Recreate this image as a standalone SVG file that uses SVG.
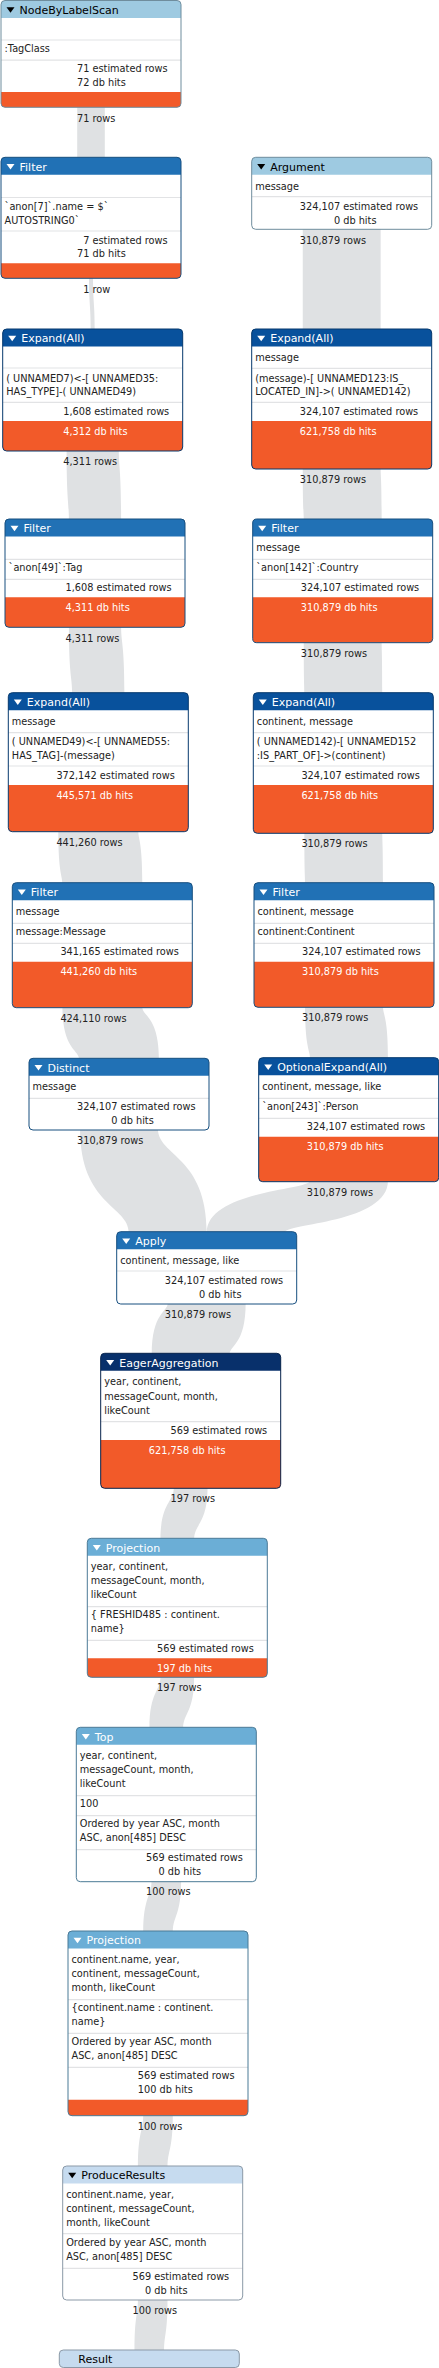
<svg xmlns="http://www.w3.org/2000/svg" width="439" height="2368" viewBox="0 0 439 2368">
<style>
.lk{fill:#dfe1e3}
.bg{fill:#fff}
.ol{fill:none;stroke-width:1}
.cost{fill:#f25a29}
.sep{stroke:#e2e3e5;stroke-width:1.2}
.t{font-family:'DejaVu Sans',sans-serif;font-size:11px;fill:#fff}
.tk{fill:#000}
.d{font-family:'DejaVu Sans',sans-serif;font-size:9.75px;fill:#222}
.dw{fill:#fff}
.e{text-anchor:end}
.tw{fill:#fff}
.tb{fill:#000}
.c1{fill:#9ecae1}.o1{stroke:#6f8d9d}
.c2{fill:#2171b5}.o2{stroke:#174f7f}
.c3{fill:#08519c}.o3{stroke:#06396d}
.c4{fill:#08306b}.o4{stroke:#06224b}
.c5{fill:#6baed6}.o5{stroke:#4b7a96}
.c6{fill:#c6dbef}.o6{stroke:#8b99a7}
</style>
<rect width="439" height="2368" fill="#fff"/>
<g id="connectors">
<path class="lk" d="M104.8 106.3C104.8 123.5 104.8 123.5 104.8 158.3L77.2 158.3C77.2 141.1 77.2 141.1 77.2 106.3Z"/>
<path class="lk" d="M93 277.3C93 302.4 94.7 302.4 94.7 330L90.7 330C90.7 304.9 89 304.9 89 277.3Z"/>
<path class="lk" d="M118.8 450C118.8 468.4 121.1 468.4 121.1 520L68.9 520C68.9 501.6 66.6 501.6 66.6 450Z"/>
<path class="lk" d="M121.1 626.3C121.1 643.4 124.4 643.4 124.4 693.7L72.2 693.7C72.2 676.6 68.9 676.6 68.9 626.3Z"/>
<path class="lk" d="M138.3 830.7C138.3 840.3 142.3 840.3 142.3 883.7L62.3 883.7C62.3 874.1 58.3 874.1 58.3 830.7Z"/>
<path class="lk" d="M142.2 1006.7C142.2 1016.3 158.9 1016.3 158.9 1059.3L79.1 1059.3C79.1 1049.7 62.4 1049.7 62.4 1006.7Z"/>
<path class="lk" d="M157.95 1129C157.95 1156.05 206.7 1156.05 206.7 1232.7L128.8 1232.7C128.8 1205.65 80.05 1205.65 80.05 1129Z"/>
<path class="lk" d="M387.95 1180.7C387.95 1223.25 284.6 1223.25 284.6 1232.7L206.7 1232.7C206.7 1190.15 310.05 1190.15 310.05 1180.7Z"/>
<path class="lk" d="M380.65 228.3L380.65 330L302.75 330L302.75 228.3Z"/>
<path class="lk" d="M380.65 468C380.65 477.45 381.65 477.45 381.65 520L303.75 520C303.75 510.55 302.75 510.55 302.75 468Z"/>
<path class="lk" d="M381.65 641.7C381.65 651.15 382.25 651.15 382.25 693.7L304.35 693.7C304.35 684.25 303.75 684.25 303.75 641.7Z"/>
<path class="lk" d="M382.25 832.3C382.25 841.6 382.95 841.6 382.95 883.7L305.05 883.7C305.05 874.4 304.35 874.4 304.35 832.3Z"/>
<path class="lk" d="M382.95 1006.3C382.95 1015.8 387.95 1015.8 387.95 1058.7L310.05 1058.7C310.05 1049.2 305.05 1049.2 305.05 1006.3Z"/>
<path class="lk" d="M245.65 1303C245.65 1344.95 229.65 1344.95 229.65 1354.3L151.75 1354.3C151.75 1312.35 167.75 1312.35 167.75 1303Z"/>
<path class="lk" d="M207.55 1487.3C207.55 1524.03 194.15 1524.03 194.15 1539.3L160.45 1539.3C160.45 1502.57 173.85 1502.57 173.85 1487.3Z"/>
<path class="lk" d="M194.15 1676.3C194.15 1713.03 183.15 1713.03 183.15 1728.3L149.45 1728.3C149.45 1691.57 160.45 1691.57 160.45 1676.3Z"/>
<path class="lk" d="M181.1 1880.7C181.1 1915.77 172.8 1915.77 172.8 1932L143.2 1932C143.2 1896.93 151.5 1896.93 151.5 1880.7Z"/>
<path class="lk" d="M172.8 2114.7C172.8 2150.27 167.5 2150.27 167.5 2167L137.9 2167C137.9 2131.43 143.2 2131.43 143.2 2114.7Z"/>
<path class="lk" d="M167.5 2299C167.5 2334.42 164.1 2334.42 164.1 2351L134.5 2351C134.5 2315.58 137.9 2315.58 137.9 2299Z"/>
<text class="d" y="121.8"><tspan class="e" x="92.5">71 </tspan><tspan x="92.5">rows</tspan></text>
<text class="d" y="292.8"><tspan class="e" x="92.5">1 </tspan><tspan x="92.5">row</tspan></text>
<text class="d" y="464.5"><tspan class="e" x="94.2">4,311 </tspan><tspan x="94.2">rows</tspan></text>
<text class="d" y="641.8"><tspan class="e" x="96.5">4,311 </tspan><tspan x="96.5">rows</tspan></text>
<text class="d" y="845.8"><tspan class="e" x="99.8">441,260 </tspan><tspan x="99.8">rows</tspan></text>
<text class="d" y="1021.8"><tspan class="e" x="103.8">424,110 </tspan><tspan x="103.8">rows</tspan></text>
<text class="d" y="1143.5"><tspan class="e" x="120.5">310,879 </tspan><tspan x="120.5">rows</tspan></text>
<text class="d" y="243.5"><tspan class="e" x="343.2">310,879 </tspan><tspan x="343.2">rows</tspan></text>
<text class="d" y="482.5"><tspan class="e" x="343.2">310,879 </tspan><tspan x="343.2">rows</tspan></text>
<text class="d" y="656.8"><tspan class="e" x="344.2">310,879 </tspan><tspan x="344.2">rows</tspan></text>
<text class="d" y="846.8"><tspan class="e" x="344.8">310,879 </tspan><tspan x="344.8">rows</tspan></text>
<text class="d" y="1020.8"><tspan class="e" x="345.5">310,879 </tspan><tspan x="345.5">rows</tspan></text>
<text class="d" y="1195.8"><tspan class="e" x="350.2">310,879 </tspan><tspan x="350.2">rows</tspan></text>
<text class="d" y="1317.5"><tspan class="e" x="208.2">310,879 </tspan><tspan x="208.2">rows</tspan></text>
<text class="d" y="1501.8"><tspan class="e" x="192.2">197 </tspan><tspan x="192.2">rows</tspan></text>
<text class="d" y="1690.8"><tspan class="e" x="178.8">197 </tspan><tspan x="178.8">rows</tspan></text>
<text class="d" y="1894.8"><tspan class="e" x="167.8">100 </tspan><tspan x="167.8">rows</tspan></text>
<text class="d" y="2129.5"><tspan class="e" x="159.5">100 </tspan><tspan x="159.5">rows</tspan></text>
<text class="d" y="2313.8"><tspan class="e" x="154.2">100 </tspan><tspan x="154.2">rows</tspan></text>
</g>

<g id="node-nodebylabelscan">
<rect class="bg" x="1" y="0.5" width="180" height="106.8" rx="4"/>
<path class="c1" d="M1 18v-13.5a4 4 0 0 1 4-4h172a4 4 0 0 1 4 4v13.5z"/>
<polygon class="tb" points="6.5,7.3 14.5,7.3 10.5,12.8"/>
<text class="t tk" x="19.5" y="13.7">NodeByLabelScan</text>
<line class="sep" x1="1" x2="181" y1="40" y2="40"/>
<text class="d" x="4.5" y="51.8">:TagClass</text>
<line class="sep" x1="1" x2="181" y1="60.2" y2="60.2"/>
<text class="d" y="71.8"><tspan class="e" x="92.5">71 </tspan><tspan x="92.5">estimated rows</tspan></text>
<text class="d" y="85.5"><tspan class="e" x="92.5">72 </tspan><tspan x="92.5">db hits</tspan></text>
<path class="cost" d="M1 92h180v11.3a4 4 0 0 1-4 4h-172a4 4 0 0 1-4-4z"/>
<rect class="ol o1" x="1" y="0.5" width="180" height="106.8" rx="4"/>
</g>

<g id="node-filter-1">
<rect class="bg" x="1" y="157.3" width="180" height="121" rx="4"/>
<path class="c2" d="M1 174.8v-13.5a4 4 0 0 1 4-4h172a4 4 0 0 1 4 4v13.5z"/>
<polygon class="tw" points="6.5,164.1 14.5,164.1 10.5,169.6"/>
<text class="t" x="19.5" y="170.5">Filter</text>
<line class="sep" x1="1" x2="181" y1="197.5" y2="197.5"/>
<text class="d" x="4.5" y="210.2">`anon[7]`.name = $`</text>
<text class="d" x="4.5" y="223.5">AUTOSTRING0`</text>
<line class="sep" x1="1" x2="181" y1="231" y2="231"/>
<text class="d" y="243.5"><tspan class="e" x="92.5">7 </tspan><tspan x="92.5">estimated rows</tspan></text>
<text class="d" y="256.8"><tspan class="e" x="92.5">71 </tspan><tspan x="92.5">db hits</tspan></text>
<path class="cost" d="M1 263.3h180v11a4 4 0 0 1-4 4h-172a4 4 0 0 1-4-4z"/>
<rect class="ol o2" x="1" y="157.3" width="180" height="121" rx="4"/>
</g>

<g id="node-expand-1">
<rect class="bg" x="2.7" y="329" width="180" height="122" rx="4"/>
<path class="c3" d="M2.7 346.5v-13.5a4 4 0 0 1 4-4h172a4 4 0 0 1 4 4v13.5z"/>
<polygon class="tw" points="8.2,335.8 16.2,335.8 12.2,341.3"/>
<text class="t" x="21.2" y="342.2">Expand(All)</text>
<line class="sep" x1="2.7" x2="182.7" y1="368" y2="368"/>
<text class="d" x="6.2" y="381.8">( UNNAMED7)&lt;-[ UNNAMED35:</text>
<text class="d" x="6.2" y="395.2">HAS_TYPE]-( UNNAMED49)</text>
<line class="sep" x1="2.7" x2="182.7" y1="402.3" y2="402.3"/>
<text class="d" y="414.5"><tspan class="e" x="94.2">1,608 </tspan><tspan x="94.2">estimated rows</tspan></text>
<path class="cost" d="M2.7 421h180v26a4 4 0 0 1-4 4h-172a4 4 0 0 1-4-4z"/>
<text class="d dw" y="434.5"><tspan class="e" x="94.2">4,312 </tspan><tspan x="94.2">db hits</tspan></text>
<rect class="ol o3" x="2.7" y="329" width="180" height="122" rx="4"/>
</g>

<g id="node-filter-2">
<rect class="bg" x="5" y="519" width="180" height="108.3" rx="4"/>
<path class="c2" d="M5 536.5v-13.5a4 4 0 0 1 4-4h172a4 4 0 0 1 4 4v13.5z"/>
<polygon class="tw" points="10.5,525.8 18.5,525.8 14.5,531.3"/>
<text class="t" x="23.5" y="532.2">Filter</text>
<line class="sep" x1="5" x2="185" y1="559.3" y2="559.3"/>
<text class="d" x="8.5" y="570.8">`anon[49]`:Tag</text>
<line class="sep" x1="5" x2="185" y1="579.3" y2="579.3"/>
<text class="d" y="591.2"><tspan class="e" x="96.5">1,608 </tspan><tspan x="96.5">estimated rows</tspan></text>
<path class="cost" d="M5 597.3h180v26a4 4 0 0 1-4 4h-172a4 4 0 0 1-4-4z"/>
<text class="d dw" y="610.8"><tspan class="e" x="96.5">4,311 </tspan><tspan x="96.5">db hits</tspan></text>
<rect class="ol o2" x="5" y="519" width="180" height="108.3" rx="4"/>
</g>

<g id="node-expand-2">
<rect class="bg" x="8.3" y="692.7" width="180" height="139" rx="4"/>
<path class="c3" d="M8.3 710.2v-13.5a4 4 0 0 1 4-4h172a4 4 0 0 1 4 4v13.5z"/>
<polygon class="tw" points="13.8,699.5 21.8,699.5 17.8,705"/>
<text class="t" x="26.8" y="705.9">Expand(All)</text>
<text class="d" x="11.8" y="724.5">message</text>
<line class="sep" x1="8.3" x2="188.3" y1="732.7" y2="732.7"/>
<text class="d" x="11.8" y="745.2">( UNNAMED49)&lt;-[ UNNAMED55:</text>
<text class="d" x="11.8" y="758.5">HAS_TAG]-(message)</text>
<line class="sep" x1="8.3" x2="188.3" y1="766" y2="766"/>
<text class="d" y="778.5"><tspan class="e" x="99.8">372,142 </tspan><tspan x="99.8">estimated rows</tspan></text>
<path class="cost" d="M8.3 785h180v42.7a4 4 0 0 1-4 4h-172a4 4 0 0 1-4-4z"/>
<text class="d dw" y="798.5"><tspan class="e" x="99.8">445,571 </tspan><tspan x="99.8">db hits</tspan></text>
<rect class="ol o3" x="8.3" y="692.7" width="180" height="139" rx="4"/>
</g>

<g id="node-filter-3">
<rect class="bg" x="12.3" y="882.7" width="180" height="125" rx="4"/>
<path class="c2" d="M12.3 900.2v-13.5a4 4 0 0 1 4-4h172a4 4 0 0 1 4 4v13.5z"/>
<polygon class="tw" points="17.8,889.5 25.8,889.5 21.8,895"/>
<text class="t" x="30.8" y="895.9">Filter</text>
<text class="d" x="15.8" y="914.5">message</text>
<line class="sep" x1="12.3" x2="192.3" y1="923.3" y2="923.3"/>
<text class="d" x="15.8" y="934.5">message:Message</text>
<line class="sep" x1="12.3" x2="192.3" y1="943.3" y2="943.3"/>
<text class="d" y="954.5"><tspan class="e" x="103.8">341,165 </tspan><tspan x="103.8">estimated rows</tspan></text>
<path class="cost" d="M12.3 961.7h180v42a4 4 0 0 1-4 4h-172a4 4 0 0 1-4-4z"/>
<text class="d dw" y="974.5"><tspan class="e" x="103.8">441,260 </tspan><tspan x="103.8">db hits</tspan></text>
<rect class="ol o2" x="12.3" y="882.7" width="180" height="125" rx="4"/>
</g>

<g id="node-distinct">
<rect class="bg" x="29" y="1058.3" width="180" height="71.7" rx="4"/>
<path class="c2" d="M29 1075.8v-13.5a4 4 0 0 1 4-4h172a4 4 0 0 1 4 4v13.5z"/>
<polygon class="tw" points="34.5,1065.1 42.5,1065.1 38.5,1070.6"/>
<text class="t" x="47.5" y="1071.5">Distinct</text>
<text class="d" x="32.5" y="1089.5">message</text>
<line class="sep" x1="29" x2="209" y1="1098.3" y2="1098.3"/>
<text class="d" y="1109.5"><tspan class="e" x="120.5">324,107 </tspan><tspan x="120.5">estimated rows</tspan></text>
<text class="d" y="1123.5"><tspan class="e" x="120.5">0 </tspan><tspan x="120.5">db hits</tspan></text>
<rect class="ol o2" x="29" y="1058.3" width="180" height="71.7" rx="4"/>
</g>

<g id="node-argument">
<rect class="bg" x="251.7" y="157.3" width="180" height="72" rx="4"/>
<path class="c1" d="M251.7 174.8v-13.5a4 4 0 0 1 4-4h172a4 4 0 0 1 4 4v13.5z"/>
<polygon class="tb" points="257.2,164.1 265.2,164.1 261.2,169.6"/>
<text class="t tk" x="270.2" y="170.5">Argument</text>
<text class="d" x="255.2" y="189.5">message</text>
<line class="sep" x1="251.7" x2="431.7" y1="196.7" y2="196.7"/>
<text class="d" y="209.5"><tspan class="e" x="343.2">324,107 </tspan><tspan x="343.2">estimated rows</tspan></text>
<text class="d" y="223.5"><tspan class="e" x="343.2">0 </tspan><tspan x="343.2">db hits</tspan></text>
<rect class="ol o1" x="251.7" y="157.3" width="180" height="72" rx="4"/>
</g>

<g id="node-expand-3">
<rect class="bg" x="251.7" y="329" width="180" height="140" rx="4"/>
<path class="c3" d="M251.7 346.5v-13.5a4 4 0 0 1 4-4h172a4 4 0 0 1 4 4v13.5z"/>
<polygon class="tw" points="257.2,335.8 265.2,335.8 261.2,341.3"/>
<text class="t" x="270.2" y="342.2">Expand(All)</text>
<text class="d" x="255.2" y="360.8">message</text>
<line class="sep" x1="251.7" x2="431.7" y1="368.3" y2="368.3"/>
<text class="d" x="255.2" y="381.8">(message)-[ UNNAMED123:IS_</text>
<text class="d" x="255.2" y="395.2">LOCATED_IN]-&gt;( UNNAMED142)</text>
<line class="sep" x1="251.7" x2="431.7" y1="402.3" y2="402.3"/>
<text class="d" y="414.5"><tspan class="e" x="343.2">324,107 </tspan><tspan x="343.2">estimated rows</tspan></text>
<path class="cost" d="M251.7 421h180v44a4 4 0 0 1-4 4h-172a4 4 0 0 1-4-4z"/>
<text class="d dw" y="434.5"><tspan class="e" x="343.2">621,758 </tspan><tspan x="343.2">db hits</tspan></text>
<rect class="ol o3" x="251.7" y="329" width="180" height="140" rx="4"/>
</g>

<g id="node-filter-4">
<rect class="bg" x="252.7" y="519" width="180" height="123.7" rx="4"/>
<path class="c2" d="M252.7 536.5v-13.5a4 4 0 0 1 4-4h172a4 4 0 0 1 4 4v13.5z"/>
<polygon class="tw" points="258.2,525.8 266.2,525.8 262.2,531.3"/>
<text class="t" x="271.2" y="532.2">Filter</text>
<text class="d" x="256.2" y="550.8">message</text>
<line class="sep" x1="252.7" x2="432.7" y1="559.3" y2="559.3"/>
<text class="d" x="256.2" y="570.8">`anon[142]`:Country</text>
<line class="sep" x1="252.7" x2="432.7" y1="579.3" y2="579.3"/>
<text class="d" y="591.2"><tspan class="e" x="344.2">324,107 </tspan><tspan x="344.2">estimated rows</tspan></text>
<path class="cost" d="M252.7 597.3h180v41.4a4 4 0 0 1-4 4h-172a4 4 0 0 1-4-4z"/>
<text class="d dw" y="610.8"><tspan class="e" x="344.2">310,879 </tspan><tspan x="344.2">db hits</tspan></text>
<rect class="ol o2" x="252.7" y="519" width="180" height="123.7" rx="4"/>
</g>

<g id="node-expand-4">
<rect class="bg" x="253.3" y="692.7" width="180" height="140.6" rx="4"/>
<path class="c3" d="M253.3 710.2v-13.5a4 4 0 0 1 4-4h172a4 4 0 0 1 4 4v13.5z"/>
<polygon class="tw" points="258.8,699.5 266.8,699.5 262.8,705"/>
<text class="t" x="271.8" y="705.9">Expand(All)</text>
<text class="d" x="256.8" y="724.5">continent, message</text>
<line class="sep" x1="253.3" x2="433.3" y1="732.7" y2="732.7"/>
<text class="d" x="256.8" y="745.2">( UNNAMED142)-[ UNNAMED152</text>
<text class="d" x="256.8" y="758.5">:IS_PART_OF]-&gt;(continent)</text>
<line class="sep" x1="253.3" x2="433.3" y1="766" y2="766"/>
<text class="d" y="778.5"><tspan class="e" x="344.8">324,107 </tspan><tspan x="344.8">estimated rows</tspan></text>
<path class="cost" d="M253.3 785h180v44.3a4 4 0 0 1-4 4h-172a4 4 0 0 1-4-4z"/>
<text class="d dw" y="798.5"><tspan class="e" x="344.8">621,758 </tspan><tspan x="344.8">db hits</tspan></text>
<rect class="ol o3" x="253.3" y="692.7" width="180" height="140.6" rx="4"/>
</g>

<g id="node-filter-5">
<rect class="bg" x="254" y="882.7" width="180" height="124.6" rx="4"/>
<path class="c2" d="M254 900.2v-13.5a4 4 0 0 1 4-4h172a4 4 0 0 1 4 4v13.5z"/>
<polygon class="tw" points="259.5,889.5 267.5,889.5 263.5,895"/>
<text class="t" x="272.5" y="895.9">Filter</text>
<text class="d" x="257.5" y="914.5">continent, message</text>
<line class="sep" x1="254" x2="434" y1="923.3" y2="923.3"/>
<text class="d" x="257.5" y="934.5">continent:Continent</text>
<line class="sep" x1="254" x2="434" y1="943.3" y2="943.3"/>
<text class="d" y="954.5"><tspan class="e" x="345.5">324,107 </tspan><tspan x="345.5">estimated rows</tspan></text>
<path class="cost" d="M254 961.7h180v41.6a4 4 0 0 1-4 4h-172a4 4 0 0 1-4-4z"/>
<text class="d dw" y="974.5"><tspan class="e" x="345.5">310,879 </tspan><tspan x="345.5">db hits</tspan></text>
<rect class="ol o2" x="254" y="882.7" width="180" height="124.6" rx="4"/>
</g>

<g id="node-optionalexpand">
<rect class="bg" x="258.7" y="1057.7" width="180" height="124" rx="4"/>
<path class="c3" d="M258.7 1075.2v-13.5a4 4 0 0 1 4-4h172a4 4 0 0 1 4 4v13.5z"/>
<polygon class="tw" points="264.2,1064.5 272.2,1064.5 268.2,1070"/>
<text class="t" x="277.2" y="1070.9">OptionalExpand(All)</text>
<text class="d" x="262.2" y="1089.5">continent, message, like</text>
<line class="sep" x1="258.7" x2="438.7" y1="1098.3" y2="1098.3"/>
<text class="d" x="262.2" y="1109.5">`anon[243]`:Person</text>
<line class="sep" x1="258.7" x2="438.7" y1="1118.3" y2="1118.3"/>
<text class="d" y="1129.5"><tspan class="e" x="350.2">324,107 </tspan><tspan x="350.2">estimated rows</tspan></text>
<path class="cost" d="M258.7 1136.7h180v41a4 4 0 0 1-4 4h-172a4 4 0 0 1-4-4z"/>
<text class="d dw" y="1149.5"><tspan class="e" x="350.2">310,879 </tspan><tspan x="350.2">db hits</tspan></text>
<rect class="ol o3" x="258.7" y="1057.7" width="180" height="124" rx="4"/>
</g>

<g id="node-apply">
<rect class="bg" x="116.7" y="1231.7" width="180" height="72.3" rx="4"/>
<path class="c2" d="M116.7 1249.2v-13.5a4 4 0 0 1 4-4h172a4 4 0 0 1 4 4v13.5z"/>
<polygon class="tw" points="122.2,1238.5 130.2,1238.5 126.2,1244"/>
<text class="t" x="135.2" y="1244.9">Apply</text>
<text class="d" x="120.2" y="1263.5">continent, message, like</text>
<line class="sep" x1="116.7" x2="296.7" y1="1271" y2="1271"/>
<text class="d" y="1283.5"><tspan class="e" x="208.2">324,107 </tspan><tspan x="208.2">estimated rows</tspan></text>
<text class="d" y="1297.5"><tspan class="e" x="208.2">0 </tspan><tspan x="208.2">db hits</tspan></text>
<rect class="ol o2" x="116.7" y="1231.7" width="180" height="72.3" rx="4"/>
</g>

<g id="node-eageraggregation">
<rect class="bg" x="100.7" y="1353.3" width="180" height="135" rx="4"/>
<path class="c4" d="M100.7 1370.8v-13.5a4 4 0 0 1 4-4h172a4 4 0 0 1 4 4v13.5z"/>
<polygon class="tw" points="106.2,1360.1 114.2,1360.1 110.2,1365.6"/>
<text class="t" x="119.2" y="1366.5">EagerAggregation</text>
<text class="d" x="104.2" y="1385.2">year, continent,</text>
<text class="d" x="104.2" y="1399.5">messageCount, month,</text>
<text class="d" x="104.2" y="1413.5">likeCount</text>
<line class="sep" x1="100.7" x2="280.7" y1="1421.7" y2="1421.7"/>
<text class="d" y="1433.5"><tspan class="e" x="192.2">569 </tspan><tspan x="192.2">estimated rows</tspan></text>
<path class="cost" d="M100.7 1440h180v44.3a4 4 0 0 1-4 4h-172a4 4 0 0 1-4-4z"/>
<text class="d dw" y="1453.5"><tspan class="e" x="192.2">621,758 </tspan><tspan x="192.2">db hits</tspan></text>
<rect class="ol o4" x="100.7" y="1353.3" width="180" height="135" rx="4"/>
</g>

<g id="node-projection-1">
<rect class="bg" x="87.3" y="1538.3" width="180" height="139" rx="4"/>
<path class="c5" d="M87.3 1555.8v-13.5a4 4 0 0 1 4-4h172a4 4 0 0 1 4 4v13.5z"/>
<polygon class="tw" points="92.8,1545.1 100.8,1545.1 96.8,1550.6"/>
<text class="t" x="105.8" y="1551.5">Projection</text>
<text class="d" x="90.8" y="1569.5">year, continent,</text>
<text class="d" x="90.8" y="1583.5">messageCount, month,</text>
<text class="d" x="90.8" y="1597.5">likeCount</text>
<line class="sep" x1="87.3" x2="267.3" y1="1606.7" y2="1606.7"/>
<text class="d" x="90.8" y="1617.5">{ FRESHID485 : continent.</text>
<text class="d" x="90.8" y="1631.8">name}</text>
<line class="sep" x1="87.3" x2="267.3" y1="1640.3" y2="1640.3"/>
<text class="d" y="1651.8"><tspan class="e" x="178.8">569 </tspan><tspan x="178.8">estimated rows</tspan></text>
<path class="cost" d="M87.3 1658.3h180v15a4 4 0 0 1-4 4h-172a4 4 0 0 1-4-4z"/>
<text class="d dw" y="1671.8"><tspan class="e" x="178.8">197 </tspan><tspan x="178.8">db hits</tspan></text>
<rect class="ol o5" x="87.3" y="1538.3" width="180" height="139" rx="4"/>
</g>

<g id="node-top">
<rect class="bg" x="76.3" y="1727.3" width="180" height="154.4" rx="4"/>
<path class="c5" d="M76.3 1744.8v-13.5a4 4 0 0 1 4-4h172a4 4 0 0 1 4 4v13.5z"/>
<polygon class="tw" points="81.8,1734.1 89.8,1734.1 85.8,1739.6"/>
<text class="t" x="94.8" y="1740.5">Top</text>
<text class="d" x="79.8" y="1758.5">year, continent,</text>
<text class="d" x="79.8" y="1772.8">messageCount, month,</text>
<text class="d" x="79.8" y="1786.8">likeCount</text>
<line class="sep" x1="76.3" x2="256.3" y1="1795.7" y2="1795.7"/>
<text class="d" x="79.8" y="1806.8">100</text>
<line class="sep" x1="76.3" x2="256.3" y1="1815.7" y2="1815.7"/>
<text class="d" x="79.8" y="1826.8">Ordered by year ASC, month</text>
<text class="d" x="79.8" y="1840.8">ASC, anon[485] DESC</text>
<line class="sep" x1="76.3" x2="256.3" y1="1849.7" y2="1849.7"/>
<text class="d" y="1860.8"><tspan class="e" x="167.8">569 </tspan><tspan x="167.8">estimated rows</tspan></text>
<text class="d" y="1874.8"><tspan class="e" x="167.8">0 </tspan><tspan x="167.8">db hits</tspan></text>
<rect class="ol o5" x="76.3" y="1727.3" width="180" height="154.4" rx="4"/>
</g>

<g id="node-projection-2">
<rect class="bg" x="68" y="1931" width="180" height="184.7" rx="4"/>
<path class="c5" d="M68 1948.5v-13.5a4 4 0 0 1 4-4h172a4 4 0 0 1 4 4v13.5z"/>
<polygon class="tw" points="73.5,1937.8 81.5,1937.8 77.5,1943.3"/>
<text class="t" x="86.5" y="1944.2">Projection</text>
<text class="d" x="71.5" y="1962.8">continent.name, year,</text>
<text class="d" x="71.5" y="1976.8">continent, messageCount,</text>
<text class="d" x="71.5" y="1990.8">month, likeCount</text>
<line class="sep" x1="68" x2="248" y1="1999.7" y2="1999.7"/>
<text class="d" x="71.5" y="2010.8">{continent.name : continent.</text>
<text class="d" x="71.5" y="2024.5">name}</text>
<line class="sep" x1="68" x2="248" y1="2033.3" y2="2033.3"/>
<text class="d" x="71.5" y="2044.5">Ordered by year ASC, month</text>
<text class="d" x="71.5" y="2058.5">ASC, anon[485] DESC</text>
<line class="sep" x1="68" x2="248" y1="2067.3" y2="2067.3"/>
<text class="d" y="2078.8"><tspan class="e" x="159.5">569 </tspan><tspan x="159.5">estimated rows</tspan></text>
<text class="d" y="2092.5"><tspan class="e" x="159.5">100 </tspan><tspan x="159.5">db hits</tspan></text>
<path class="cost" d="M68 2099.7h180v12a4 4 0 0 1-4 4h-172a4 4 0 0 1-4-4z"/>
<rect class="ol o5" x="68" y="1931" width="180" height="184.7" rx="4"/>
</g>

<g id="node-produceresults">
<rect class="bg" x="62.7" y="2166" width="180" height="134" rx="4"/>
<path class="c6" d="M62.7 2183.5v-13.5a4 4 0 0 1 4-4h172a4 4 0 0 1 4 4v13.5z"/>
<polygon class="tb" points="68.2,2172.8 76.2,2172.8 72.2,2178.3"/>
<text class="t tk" x="81.2" y="2179.2">ProduceResults</text>
<text class="d" x="66.2" y="2197.8">continent.name, year,</text>
<text class="d" x="66.2" y="2211.8">continent, messageCount,</text>
<text class="d" x="66.2" y="2225.5">month, likeCount</text>
<line class="sep" x1="62.7" x2="242.7" y1="2233.7" y2="2233.7"/>
<text class="d" x="66.2" y="2245.8">Ordered by year ASC, month</text>
<text class="d" x="66.2" y="2259.5">ASC, anon[485] DESC</text>
<line class="sep" x1="62.7" x2="242.7" y1="2268.3" y2="2268.3"/>
<text class="d" y="2279.5"><tspan class="e" x="154.2">569 </tspan><tspan x="154.2">estimated rows</tspan></text>
<text class="d" y="2293.5"><tspan class="e" x="154.2">0 </tspan><tspan x="154.2">db hits</tspan></text>
<rect class="ol o6" x="62.7" y="2166" width="180" height="134" rx="4"/>
</g>

<g id="node-result">
<rect class="c6 o6" x="59.3" y="2350" width="180" height="17.5" rx="4" stroke-width="1"/>
<text class="t tk" x="78.3" y="2363.2">Result</text>
</g>
</svg>
